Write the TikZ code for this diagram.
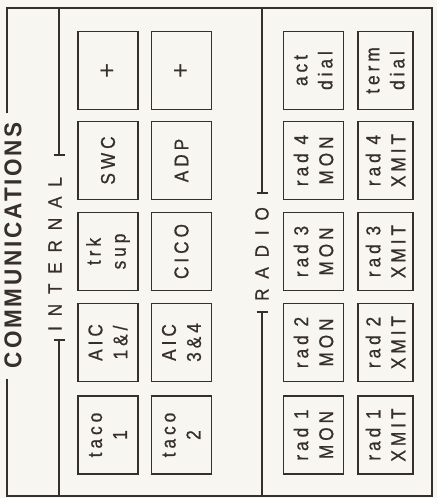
\documentclass[tikz,border=0pt]{standalone}
\usepackage{fontspec}
\setmainfont{Liberation Sans}
\usepackage{graphicx}
\definecolor{ink}{RGB}{55,46,46}
\definecolor{paper}{RGB}{247,246,241}
\begin{document}
\begin{tikzpicture}[x=1pt,y=-1pt,
  box/.style={draw=ink, line width=1.4pt, rotate=90, align=center, inner sep=0pt,
    text=ink, minimum width=78pt,
    font=\fontsize{20}{25}\selectfont\addfontfeatures{FakeStretch=0.86,LetterSpace=20,FakeBold=0.8}},
  boxA/.style={box, minimum height=60pt},
  boxB/.style={box, minimum height=55pt},
  plus/.style={font=\fontsize{26}{26}\selectfont},
  frame/.style={draw=ink, line width=1.6pt},
  brk/.style={draw=ink, line width=1.3pt},
  lab/.style={rotate=90, text=ink, inner sep=0pt,
    font=\fontsize{19}{20}\selectfont\addfontfeatures{FakeStretch=0.9,LetterSpace=52,FakeBold=0.6}}]
\fill[paper] (0,0) rectangle (437,498);
\useasboundingbox (0,0) rectangle (437,498);

% outer frame
\coordinate (c1) at (7,113);
\coordinate (c2) at (7,8);
\coordinate (c3) at (432,8);
\coordinate (c4) at (432,496);
\coordinate (c5) at (7,496);
\coordinate (c6) at (7,379);
\draw[frame] (c1) -- (c2) -- (c3) -- (c4) -- (c5) -- (c6);
\node[rotate=90, inner sep=0pt, text=ink] (title) at (13,245)
  {\resizebox{246pt}{17pt}{\bfseries\addfontfeatures{FakeStretch=0.8,LetterSpace=10}COMMUNICATIONS}};

% INTERNAL bracket
\node[lab] (internal) at (55,254) {INTERNAL};
\coordinate (i1) at (59,8);
\coordinate (i2) at (59,155);
\coordinate (i3) at (59,340);
\coordinate (i4) at (59,496);
\draw[brk] (i1) -- (i2);
\draw[brk] ([xshift=-5.5pt]i2) -- ([xshift=5.5pt]i2);
\draw[brk] (i3) -- (i4);
\draw[brk] ([xshift=-5.5pt]i3) -- ([xshift=5.5pt]i3);

% RADIO bracket
\node[lab] (radio) at (262,254) {RADIO};
\coordinate (r1) at (262,8);
\coordinate (r2) at (262,193);
\coordinate (r3) at (262,312);
\coordinate (r4) at (262,496);
\draw[brk] (r1) -- (r2);
\draw[brk] ([xshift=-5.5pt]r2) -- ([xshift=5.5pt]r2);
\draw[brk] (r3) -- (r4);
\draw[brk] ([xshift=-5.5pt]r3) -- ([xshift=5.5pt]r3);

% INTERNAL boxes, column A
\node[boxA, plus] (ia1) at (108,70.5) {+};
\node[boxA] (ia2) at (108,160.5) {SWC};
\node[boxA] (ia3) at (108,251.5) {trk\\sup};
\node[boxA] (ia4) at (108,342.5) {AIC\\1\&/};
\node[boxA] (ia5) at (108,435) {taco\\1};
% INTERNAL boxes, column B
\node[boxA, plus] (ib1) at (181.5,70.5) {+};
\node[boxA] (ib2) at (181.5,160.5) {ADP};
\node[boxA] (ib3) at (181.5,251.5) {CICO};
\node[boxA] (ib4) at (181.5,342.5) {AIC\\3\&4};
\node[boxA] (ib5) at (181.5,435) {taco\\2};

% RADIO boxes, column A
\node[boxA] (ra1) at (313.5,70.5) {act\\dial};
\node[boxA] (ra2) at (313.5,160.5) {rad 4\\MON};
\node[boxA] (ra3) at (313.5,251.5) {rad 3\\MON};
\node[boxA] (ra4) at (313.5,342.5) {rad 2\\MON};
\node[boxA] (ra5) at (313.5,435) {rad 1\\MON};
% RADIO boxes, column B
\node[boxB] (rb1) at (385.5,70.5) {term\\dial};
\node[boxB] (rb2) at (385.5,160.5) {rad 4\\XMIT};
\node[boxB] (rb3) at (385.5,251.5) {rad 3\\XMIT};
\node[boxB] (rb4) at (385.5,342.5) {rad 2\\XMIT};
\node[boxB] (rb5) at (385.5,435) {rad 1\\XMIT};
\end{tikzpicture}
\end{document}
